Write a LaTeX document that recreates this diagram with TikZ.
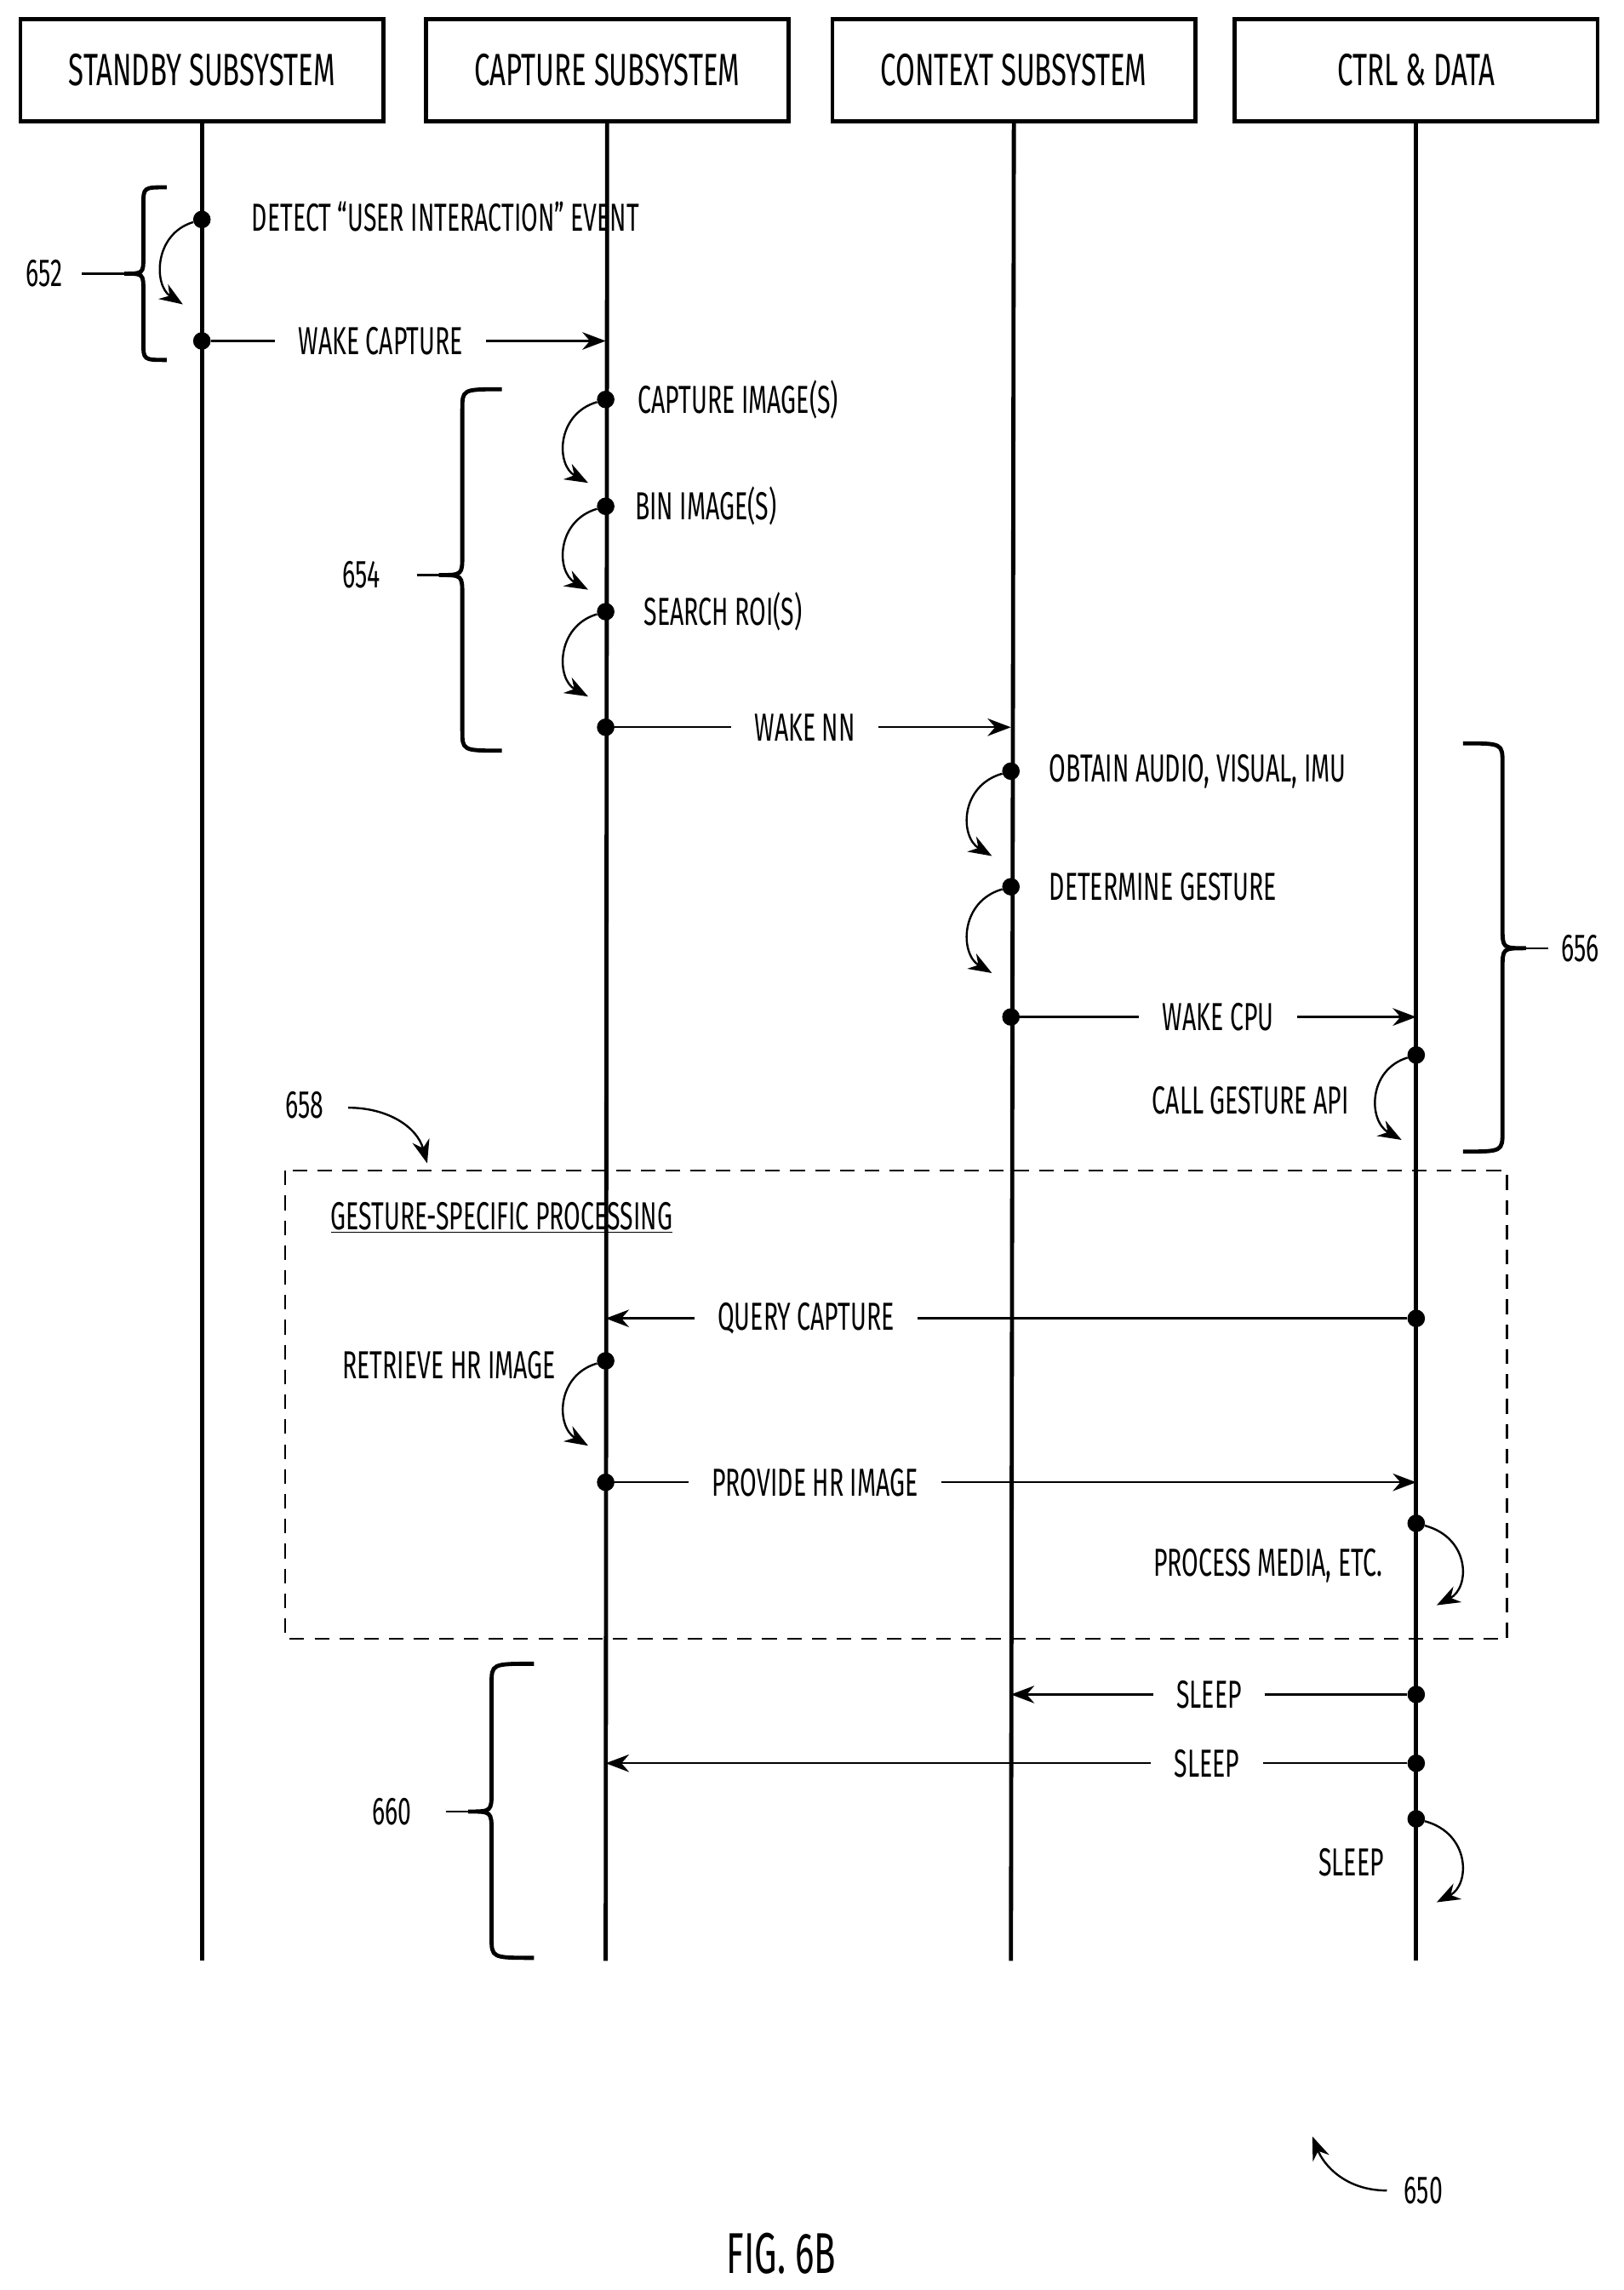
\documentclass[tikz,border=0pt]{standalone}
\usepackage{fontspec}
\setmainfont{Fira Sans}[FakeStretch=0.62]
\usetikzlibrary{arrows.meta}
\begin{document}
\begin{tikzpicture}[x=0.05cm,y=-0.05cm,
  txt/.style={font=\fontsize{38}{44}\selectfont,inner sep=0pt},
  hdr/.style={draw,line width=4pt,minimum width=12.4cm,minimum height=3.5cm,font=\fontsize{44}{50}\selectfont},
  life/.style={line width=4pt},
  dot/.style={circle,fill,inner sep=0pt,minimum size=0.6cm},
  msg/.style={line width=2pt,-{Stealth[length=0.8cm,width=0.6cm]}},
  lbl/.style={fill=white,inner xsep=0.8cm,font=\fontsize{38}{44}\selectfont,inner ysep=0pt},
  self/.style={line width=2pt,-{Stealth[length=0.8cm,width=0.6cm]}},
  brace/.style={line width=4pt}]
\useasboundingbox (0,0) rectangle (1110,1565);
% headers
\node[hdr] (h1) at (138,48) {STANDBY SUBSYSTEM};
\node[hdr] (h2) at (415,48) {CAPTURE SUBSYSTEM};
\node[hdr] (h3) at (693,48) {CONTEXT SUBSYSTEM};
\node[hdr] (h4) at (968,48) {CTRL \& DATA};
\coordinate (e1) at (138,1340);\coordinate (e2) at (414,1340);
\coordinate (e3) at (691,1340);\coordinate (e4) at (968,1340);
\draw[life] (h1.south) -- (e1); \draw[life] (h2.south) -- (e2);
\draw[life] (h3.south) -- (e3); \draw[life] (h4.south) -- (e4);
% 652
\node[dot] (d1) at (138,150) {};
\node[txt,anchor=west] (t1) at (172,148) {DETECT “USER INTERACTION” EVENT};
\coordinate (c1) at (125,208);
\draw[self] (d1) .. controls (105,160) and (105,195) .. (c1);
\node[dot] (d2) at (138,233) {};
\coordinate (a2) at (414,233);
\draw[msg] (d2) -- node[lbl,pos=0.43] {WAKE CAPTURE} (a2);
% 654
\node[dot] (d3) at (414,273) {};
\node[txt,anchor=west] at (436,273) {CAPTURE IMAGE(S)};
\coordinate (c3) at (402,330);
\draw[self] (d3) .. controls (380,283) and (380,318) .. (c3);
\node[dot] (d4) at (414,346) {};
\node[txt,anchor=west] at (434,346) {BIN IMAGE(S)};
\coordinate (c4) at (402,403);
\draw[self] (d4) .. controls (380,356) and (380,391) .. (c4);
\node[dot] (d5) at (414,418) {};
\node[txt,anchor=west] at (440,418) {SEARCH ROI(S)};
\coordinate (c5) at (402,476);
\draw[self] (d5) .. controls (380,428) and (380,464) .. (c5);
\node[dot] (d6) at (414,497) {};
\coordinate (a6) at (691,497);
\draw[msg] (d6) -- node[lbl,pos=0.48] {WAKE NN} (a6);
% 656
\node[dot] (d7) at (691,527) {};
\node[txt,anchor=west] at (717,527) {OBTAIN AUDIO, VISUAL, IMU};
\coordinate (c7) at (678,585);
\draw[self] (d7) .. controls (656,537) and (656,572) .. (c7);
\node[dot] (d8) at (691,606) {};
\node[txt,anchor=west] at (717,606) {DETERMINE GESTURE};
\coordinate (c8) at (678,665);
\draw[self] (d8) .. controls (656,616) and (656,652) .. (c8);
\node[dot] (d9) at (691,695) {};
\coordinate (a9) at (968,695);
\draw[msg] (d9) -- node[lbl,pos=0.5] {WAKE CPU} (a9);
\node[dot] (d10) at (968,721) {};
\node[txt,anchor=east] at (922,752) {CALL GESTURE API};
\coordinate (c10) at (958,779);
\draw[self] (d10) .. controls (935,731) and (935,766) .. (c10);
% 658 box
\draw[line width=2pt,dash pattern=on 0.5cm off 0.35cm] (195,800) rectangle (1030,1120);
\node[txt,anchor=west] at (226,832) {\underline{GESTURE-SPECIFIC PROCESSING}};
\node[txt] (n658) at (208,755) {658};
\coordinate (c658) at (292,795);
\draw[self] (238,757) .. controls (265,757) and (285,770) .. (c658);
\node[dot] (d11) at (968,901) {};
\coordinate (a11) at (414,901);
\draw[msg] (d11) -- node[lbl,pos=0.75] {QUERY CAPTURE} (a11);
\node[txt,anchor=east] at (380,933) {RETRIEVE HR IMAGE};
\node[dot] (d12) at (414,930) {};
\coordinate (c12) at (402,988);
\draw[self] (d12) .. controls (380,940) and (380,975) .. (c12);
\node[dot] (d13) at (414,1013) {};
\coordinate (a13) at (968,1013);
\draw[msg] (d13) -- node[lbl,pos=0.25] {PROVIDE HR IMAGE} (a13);
\node[dot] (d14) at (968,1041) {};
\node[txt,anchor=east] at (945,1070) {PROCESS MEDIA, ETC.};
\coordinate (c14) at (982,1097);
\draw[self] (d14) .. controls (1005,1051) and (1005,1085) .. (c14);
% 660
\node[dot] (d15) at (968,1158) {};
\coordinate (a15) at (691,1158);
\draw[msg] (d15) -- node[lbl,pos=0.5] {SLEEP} (a15);
\node[dot] (d16) at (968,1205) {};
\coordinate (a16) at (414,1205);
\draw[msg] (d16) -- node[lbl,pos=0.25] {SLEEP} (a16);
\node[dot] (d17) at (968,1243) {};
\node[txt,anchor=east] at (946,1273) {SLEEP};
\coordinate (c17) at (982,1300);
\draw[self] (d17) .. controls (1005,1253) and (1005,1288) .. (c17);
% braces
\draw[brace] (114,128) .. controls (98,128) .. (98,140) -- (98,175) .. controls (98,187) .. (85,187) .. controls (98,187) .. (98,199) -- (98,234) .. controls (98,246) .. (114,246);
\node[txt] (n652) at (30,187) {652};
\draw[line width=2pt] (56,187) -- (85,187);
\draw[brace] (343,266) .. controls (316,266) .. (316,280) -- (316,379) .. controls (316,393) .. (300,393) .. controls (316,393) .. (316,407) -- (316,499) .. controls (316,513) .. (343,513);
\node[txt] (n654) at (247,393) {654};
\draw[line width=2pt] (285,393) -- (300,393);
\draw[brace] (1000,508) .. controls (1027,508) .. (1027,522) -- (1027,634) .. controls (1027,648) .. (1043,648) .. controls (1027,648) .. (1027,662) -- (1027,773) .. controls (1027,787) .. (1000,787);
\node[txt] (n656) at (1080,648) {656};
\draw[line width=2pt] (1043,648) -- (1058,648);
\draw[brace] (365,1137) .. controls (336,1137) .. (336,1151) -- (336,1224) .. controls (336,1238) .. (320,1238) .. controls (336,1238) .. (336,1252) -- (336,1324) .. controls (336,1338) .. (365,1338);
\node[txt] (n660) at (268,1238) {660};
\draw[line width=2pt] (305,1238) -- (320,1238);
% 650
\node[txt] (n650) at (973,1497) {650};
\coordinate (c650) at (897,1460);
\draw[self] (948,1497) .. controls (920,1497) and (905,1480) .. (c650);
\node[font=\fontsize{56}{64}\selectfont,inner sep=0pt] (fig) at (534,1540) {FIG. 6B};
\end{tikzpicture}
\end{document}
